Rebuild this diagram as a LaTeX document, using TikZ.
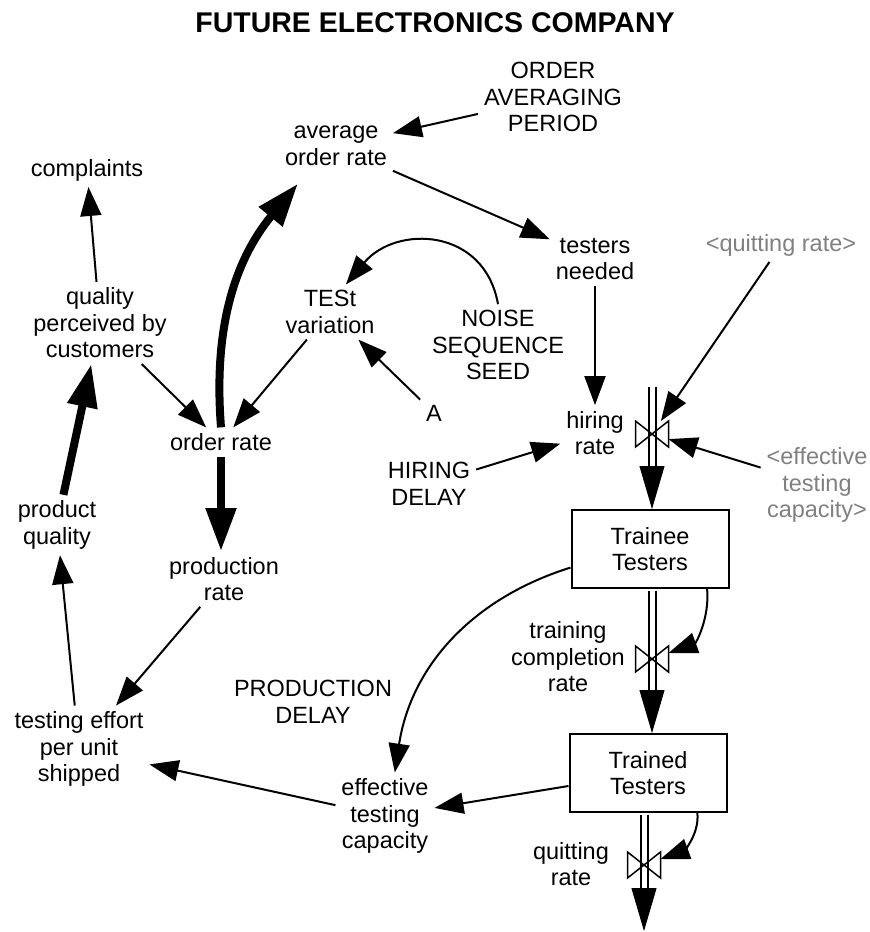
\documentclass[tikz,border=0pt]{standalone}
\usepackage{fontspec}
\setmainfont{Liberation Sans}
\usetikzlibrary{arrows.meta, calc}
\definecolor{vgrey}{HTML}{808080}
\tikzset{
  every picture/.style={line width=2pt},
  var/.style={align=center, inner sep=5pt, font=\fontsize{23.5}{26.5}\selectfont},
  shadow/.style={var, text=vgrey},
  stock/.style={var, draw, minimum width=157pt, minimum height=78pt},
  valve/.style={minimum width=31pt, minimum height=24pt, inner sep=0pt},
  link/.style={-{Triangle[length=29pt, width=21pt]}, line width=2pt},
  strong/.style={-{Triangle[length=43pt, width=29pt]}, line width=8pt},
  pipe/.style={double, double distance=5pt, line width=2pt, shorten <=1.5pt, shorten >=17pt},
  flowhead/.style={-{Triangle[length=43pt, width=25pt]}, line width=1pt},
  title/.style={font=\fontsize{28.5}{34}\selectfont\bfseries},
}
\begin{document}
\begin{tikzpicture}[x=1pt, y=-1pt]
  \useasboundingbox (0,0) rectangle (870,932);
  \node[title] (ttl) at (435,23) {FUTURE ELECTRONICS COMPANY};
  % auxiliaries and constants
  \node[var] (oap) at (553,97) {ORDER\\AVERAGING\\PERIOD};
  \node[var] (avg) at (336,146) {average\\order rate};
  \node[var] (cmp) at (87,170) {complaints};
  \node[var] (tn) at (595,259) {testers\\needed};
  \node[shadow] (sq) at (781,245) {<quitting rate>};
  \node[var] (tv) at (330,312) {TESt\\variation};
  \node[var] (qp) at (100,323) {quality\\perceived by\\customers};
  \node[var] (nss) at (498,345) {NOISE\\SEQUENCE\\SEED};
  \node[var] (a) at (434,413) {A};
  \node[var] (ord) at (221,442) {order rate};
  \node[var] (hr) at (595,433) {hiring\\rate};
  \node[var] (hd) at (429,484) {HIRING\\DELAY};
  \node[shadow] (setc) at (817,485) {<effective\\testing\\capacity>};
  \node[var] (pq) at (57,525) {product\\quality};
  \node[var] (pr) at (224,579) {production\\rate};
  \node[var] (pd) at (313,702) {PRODUCTION\\DELAY};
  \node[var] (te) at (79,749) {testing effort\\per unit\\shipped};
  \node[var] (etc) at (385,816) {effective\\testing\\capacity};
  \node[var] (tcr) at (568,657) {training\\completion\\rate};
  \node[var] (qr) at (571,864) {quitting\\rate};
  % stocks, valves and flows
  \node[stock] (trainee) at (650,549) {Trainee\\Testers};
  \node[stock] (trained) at (648,773) {Trained\\Testers};
  \node[valve] (v1) at (652,434) {};
  \node[valve] (v2) at (652,659) {};
  \node[valve] (v3) at (644,865) {};
  \coordinate (src) at (652,385);
  \coordinate (snk) at (644,931);
  \draw[pipe] (src) -- (v1 |- trainee.north);
  \draw[flowhead] ($(v1 |- trainee.north)+(0,-2)$) -- (v1 |- trainee.north);
  \draw[pipe] (v2 |- trainee.south) -- (v2 |- trained.north);
  \draw[flowhead] ($(v2 |- trained.north)+(0,-2)$) -- (v2 |- trained.north);
  \draw[pipe] (v3 |- trained.south) -- (snk);
  \draw[flowhead] ($(snk)+(0,-2)$) -- (snk);
  \foreach \v in {v1,v2,v3}
    \draw[line width=1.5pt] (\v.north west) -- (\v.south east) -- (\v.north east) -- (\v.south west) -- cycle;
  % causal links
  \draw[link] (oap) -- (avg);
  \draw[link] (avg) -- (tn);
  \draw[link] (qp) -- (cmp);
  \draw[link] (qp) -- (ord);
  \draw[link] (tv) -- (ord);
  \draw[strong] (ord.north) to[bend left=22] ([yshift=-12pt]avg.214);
  \draw[link] (nss.north) to[out=100, in=50, looseness=1.3] (tv.60);
  \draw[link] (a) -- (tv);
  \draw[link] (tn) -- (hr);
  \draw[link] (sq) -- (v1);
  \draw[link] (setc) -- (v1);
  \draw[link] (hd) -- (hr);
  \draw[strong] (ord.south) -- (ord.south |- pr.north);
  \draw[strong] (pq) -- (qp);
  \draw[link] (te) -- (pq);
  \draw[link] (pr) -- (te);
  \draw[link] (etc) -- (te);
  \draw[link] (trainee) to[bend right=32] (etc);
  \draw[link] (trained) -- (etc);
  \draw[link] (trainee.-35) to[out=-85, in=20] (v2);
  \draw[link] (trained.-39) to[out=-85, in=20] (v3);
\end{tikzpicture}
\end{document}
